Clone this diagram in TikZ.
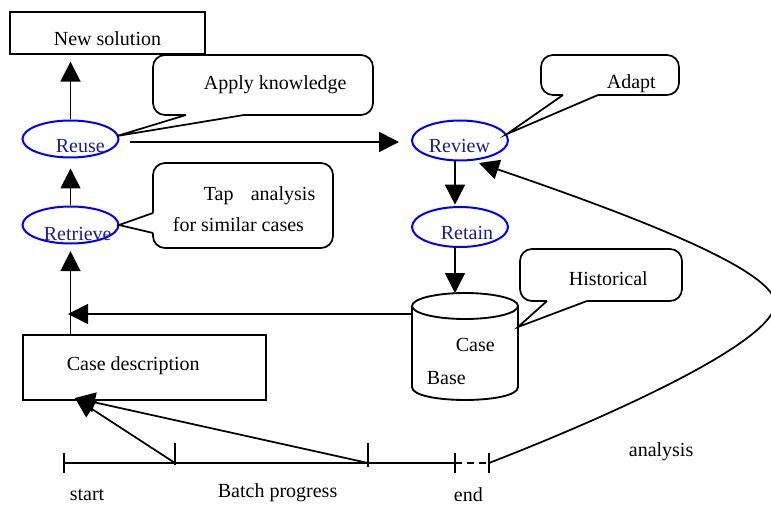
\documentclass[tikz,border=0pt]{standalone}
\usepackage{fontspec}
\setmainfont{Liberation Serif}
\usetikzlibrary{arrows.meta,shapes.geometric}
\definecolor{lblblue}{RGB}{30,30,140}
\begin{document}
\begin{tikzpicture}[x=0.75pt,y=-0.75pt,line width=1.3pt,line join=miter,
  arr/.style={-{Triangle[length=15pt,width=15pt]}},
  rbox/.style={draw,line width=1.5pt,inner sep=0pt},
  cbox/.style={draw,line width=1.3pt,rounded corners=9pt,fill=white,inner sep=0pt},
  ell/.style={draw=blue,ellipse,line width=1.5pt,inner sep=0pt},
  txt/.style={inner sep=0pt,anchor=base west,font=\fontsize{15pt}{18pt}\selectfont},
  btxt/.style={txt,text=lblblue}]
\fill[white] (0,0) rectangle (771,506);
\useasboundingbox (0,0) rectangle (771,506);

% boxes
\node[rbox,minimum width=146.25pt,minimum height=31.5pt] (newsol) at (107.5,33) {};
\node[txt] (newsoltxt) at (53,46) {New solution};
\node[rbox,minimum width=182.25pt,minimum height=48.75pt] (casedesc) at (144.5,367.5) {};
\node[txt] (casedesctxt) at (66,370) {Case description};

% ellipses
\node[ell,minimum width=72pt,minimum height=27.75pt] (reuse) at (70.5,139) {};
\node[btxt] (reusetxt) at (55,153) {Reuse};
\node[ell,minimum width=72pt,minimum height=27.75pt] (retrieve) at (70.5,225) {};
\node[btxt] (retrievetxt) at (43,240) {Retrieve};
\node[ell,minimum width=72pt,minimum height=30pt] (review) at (460,140.5) {};
\node[btxt] (reviewtxt) at (428,153) {Review};
\node[ell,minimum width=72pt,minimum height=30pt] (retain) at (460,227) {};
\node[btxt] (retaintxt) at (440,239) {Retain};

% cylinder (Case Base)
\filldraw[fill=white,line width=1.4pt] (412,306) -- (412,387) .. controls (412,404.3) and (518,404.3) .. (518,387) -- (518,306);
\draw[line width=1.4pt] (465,306) ellipse [x radius=39.75pt, y radius=9.75pt];
\node[txt] (casetxt) at (455,351) {Case};
\node[txt] (basetxt) at (426,384) {Base};
\coordinate (cbtop) at (455,293);
\coordinate (cbw) at (412,314);
\coordinate (cbe) at (518,327);

% callouts
\node[cbox,minimum width=165pt,minimum height=45pt] (c1) at (263,85) {};
\fill[white] (186,112) -- (186,115) -- (117,136) -- (244,115) -- (244,112) -- cycle;
\draw (186,115) -- (117,136) -- (244,115);
\node[txt] (c1txt) at (203,90) {Apply knowledge};

\node[cbox,minimum width=135pt,minimum height=63.75pt] (c2) at (243,205.5) {};
\fill[white] (156,213) -- (153,213) -- (119,225) -- (153,233) -- (156,233) -- cycle;
\draw (153,213) -- (119,225) -- (153,233);
\node[txt] (c2txta) at (203,200) {Tap};
\node[txt] (c2txtb) at (250,200) {analysis};
\node[txt] (c2txtc) at (172,232) {for similar cases};

\node[cbox,minimum width=103.5pt,minimum height=30pt] (c3) at (610,75) {};
\fill[white] (563,92) -- (563,95) -- (507,134) -- (598,95) -- (598,92) -- cycle;
\draw (563,95) -- (507,134) -- (598,95);
\node[txt] (c3txt) at (606,89) {Adapt};

\node[cbox,minimum width=121.5pt,minimum height=39pt] (c4) at (601,275) {};
\fill[white] (547,298) -- (547,301) -- (cbe) -- (587,301) -- (587,298) -- cycle;
\draw (547,301) -- (cbe) -- (587,301);
\node[txt] (c4txt) at (568,285) {Historical};

% connectors
\draw[arr,shorten >=5pt] (reuse.north) -- (reuse.north |- newsol.south);
\draw[arr,shorten >=7.5pt] (retrieve.north) -- (reuse.south);
\draw[arr,shorten >=5pt] (retrieve.south |- casedesc.north) -- (retrieve.south);
\coordinate (rs) at (130,142);
\coordinate (re) at (399,142);
\draw[arr] (rs) -- (re);
\draw[arr,shorten >=1pt] (review.south -| cbtop) -- (retain.north -| cbtop);
\draw[arr] (retain.south -| cbtop) -- (cbtop);
\coordinate (vtip) at (68,314);
\draw[arr] (cbw) -- (vtip);

% timeline
\coordinate (t0) at (64,463);
\coordinate (t1) at (175,463);
\coordinate (t2) at (368,463);
\coordinate (t3) at (455,463);
\coordinate (t4) at (489,463);
\draw (t0) -- (t3);
\draw[dashed,dash pattern=on 5pt off 4pt] (t3) -- (t4);
\draw (64,453) -- (64,473);
\draw (175,443) -- (175,465);
\draw (368,443) -- (368,467);
\draw (455,453) -- (455,473);
\draw (489,453) -- (489,473);
\coordinate (cdtip) at (75,398);
\draw[arr] (t1) -- (cdtip);
\draw[arr] (t2) -- (cdtip);

% feedback curve
\coordinate (rvtip) at (479,163);
\draw[arr] (t4) .. controls (600,420) and (770,345) .. (775,305) .. controls (779,272) and (640,218) .. (rvtip);

% labels
\node[txt] (starttxt) at (69,500) {start};
\node[txt] (batchtxt) at (217,497) {Batch progress};
\node[txt] (endtxt) at (453,501) {end};
\node[txt] (analysistxt) at (628,456) {analysis};
\end{tikzpicture}
\end{document}
